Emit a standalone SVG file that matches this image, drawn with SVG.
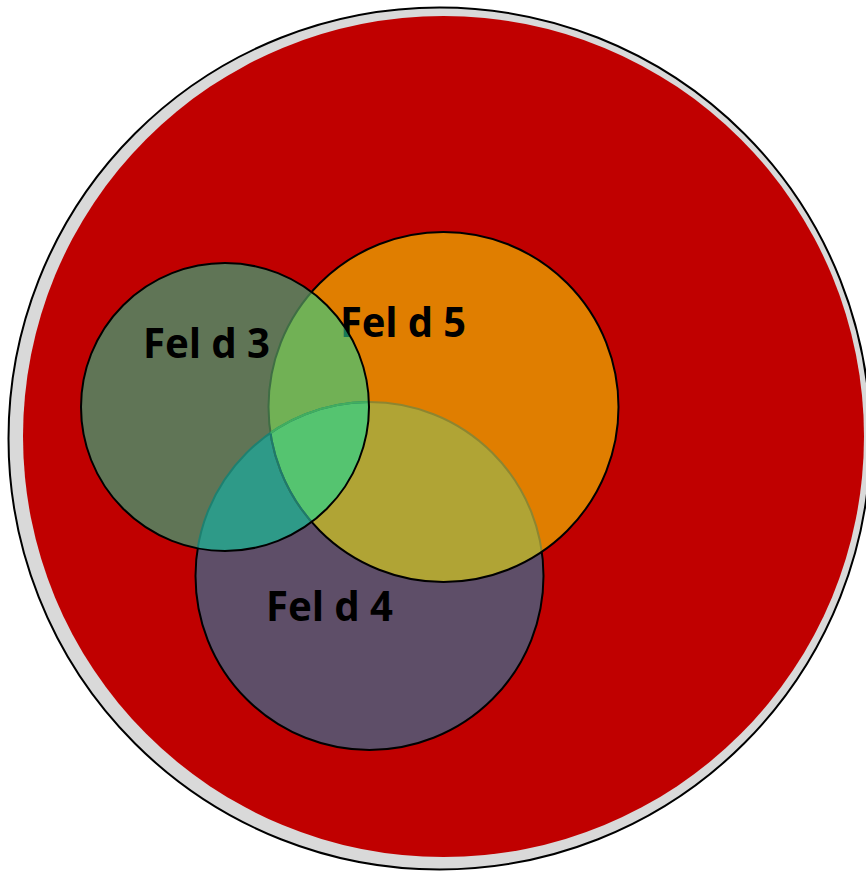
<svg xmlns="http://www.w3.org/2000/svg" width="866" height="872" viewBox="0 0 866 872">
<style>
.lbl{font-family:"Noto Sans","Open Sans","Liberation Sans",sans-serif;font-weight:bold;font-size:42px;fill:#000}
.edge{fill:none;stroke:#000;stroke-width:2}
</style>
<defs>
<clipPath id="k3"><circle cx="225" cy="407" r="144"/></clipPath>
<clipPath id="k4"><circle cx="369.5" cy="576" r="174"/></clipPath>
<clipPath id="k5"><circle cx="443.5" cy="407" r="175"/></clipPath>
</defs>
<rect width="866" height="872" fill="#fff"/>
<g id="outer">
<circle cx="439.5" cy="438.5" r="431" fill="#D9D9D9" stroke="#000" stroke-width="2"/>
<circle cx="443.5" cy="436.5" r="420.5" fill="#C00000"/>
</g>
<g id="feld4">
<circle cx="369.5" cy="576" r="174" fill="#5E4E68" stroke="#000" stroke-width="2"/>
<text class="lbl" x="266" y="621" textLength="127" lengthAdjust="spacingAndGlyphs">Fel d 4</text>
</g>
<g id="feld5">
<circle cx="443.5" cy="407" r="175" fill="#E07E00"/>
<g clip-path="url(#k5)">
<circle cx="369.5" cy="576" r="174" fill="#B0A435" stroke="#8E8530" stroke-width="2"/>
</g>
<circle cx="443.5" cy="407" r="175" class="edge"/>
<text id="t5" class="lbl" x="340" y="337" textLength="126" lengthAdjust="spacingAndGlyphs">Fel d 5</text>
</g>
<g id="feld3">
<circle cx="225" cy="407" r="144" fill="#607556"/>
<g clip-path="url(#k3)">
<circle cx="443.5" cy="407" r="175" fill="#71B155"/>
<circle cx="369.5" cy="576" r="174" fill="#2E9A88"/>
<g clip-path="url(#k5)">
<circle cx="369.5" cy="576" r="174" fill="#55C470"/>
</g>
<circle cx="443.5" cy="407" r="175" fill="none" stroke="#3F6E44" stroke-width="2"/>
<g clip-path="url(#k4)">
<circle cx="443.5" cy="407" r="175" fill="none" stroke="#1E7A6C" stroke-width="2"/>
</g>
<circle cx="369.5" cy="576" r="174" fill="none" stroke="#1E8070" stroke-width="2"/>
<g clip-path="url(#k5)">
<circle cx="369.5" cy="576" r="174" fill="none" stroke="#42AE5E" stroke-width="2"/>
</g>
<text class="lbl" x="340" y="337" textLength="126" lengthAdjust="spacingAndGlyphs" style="fill:#177A56">Fel d 5</text>
</g>
<circle cx="225" cy="407" r="144" class="edge"/>
<text class="lbl" x="143" y="358" textLength="127" lengthAdjust="spacingAndGlyphs">Fel d 3</text>
</g>
</svg>
